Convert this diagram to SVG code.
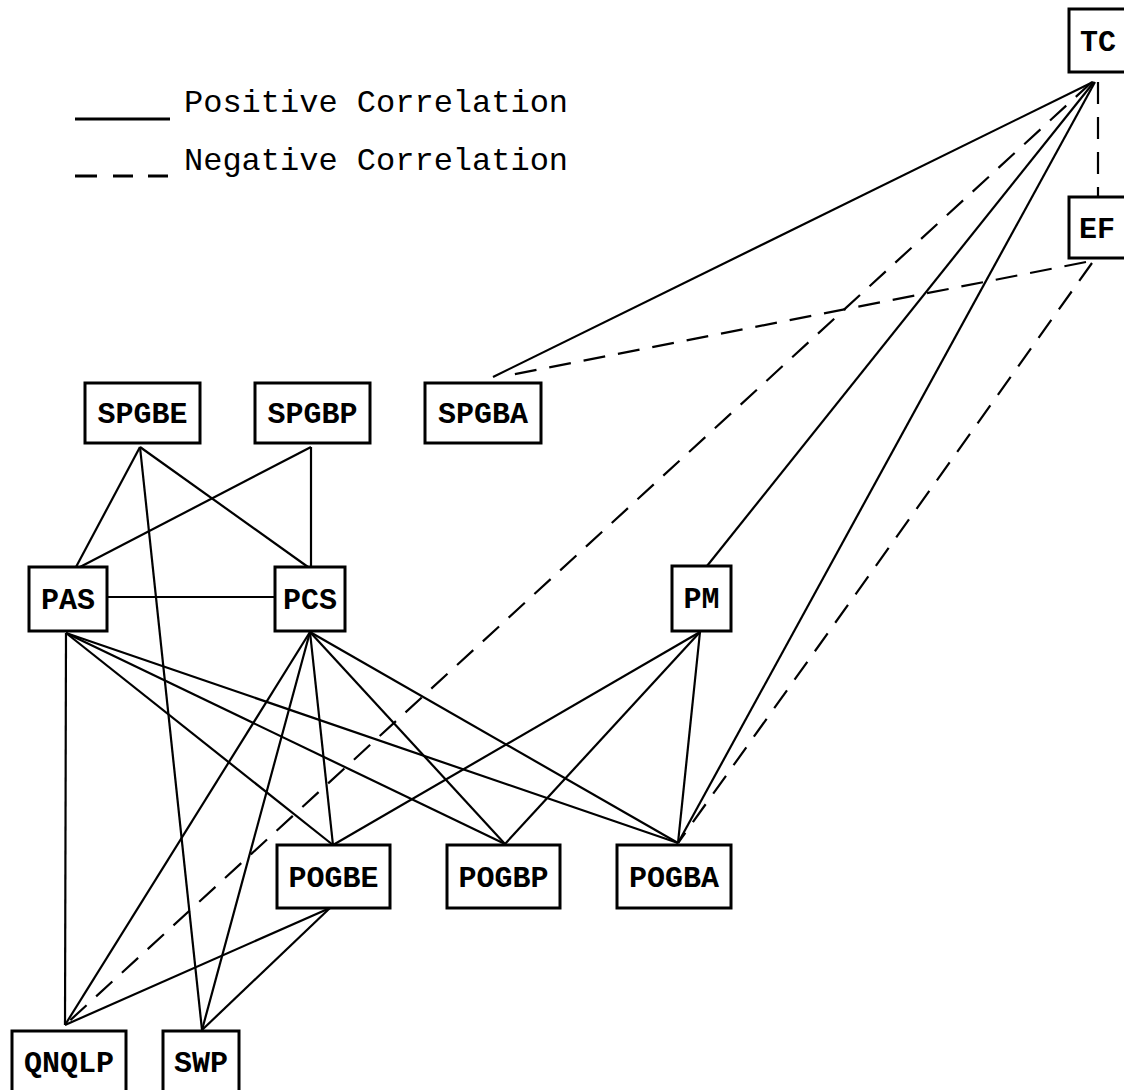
<svg xmlns="http://www.w3.org/2000/svg" width="1124" height="1090" viewBox="0 0 1124 1090">
<style>
.box{fill:#fff;stroke:#000;stroke-width:3}
.lbl{font-family:"Liberation Mono","DejaVu Sans Mono",monospace;font-size:30px;font-weight:bold;text-anchor:middle;fill:#000}
.leg{font-family:"Liberation Mono","DejaVu Sans Mono",monospace;font-size:32px;fill:#000}
.pos{stroke:#000;stroke-width:2.2;fill:none}
.neg{stroke:#000;stroke-width:2.2;fill:none;stroke-dasharray:22 13}
.lg{stroke:#000;stroke-width:3;fill:none}
</style>
<rect width="1124" height="1090" fill="#fff"/>
<g id="legend">
<line class="lg" x1="75" y1="119" x2="170" y2="119"/>
<text class="leg" x="184" y="112">Positive Correlation</text>
<line class="lg" x1="75" y1="176" x2="97" y2="176"/>
<line class="lg" x1="113" y1="176" x2="133" y2="176"/>
<line class="lg" x1="148" y1="176" x2="168" y2="176"/>
<text class="leg" x="184" y="170">Negative Correlation</text>
</g>
<g id="connectors">
<line class="pos" x1="1093" y1="82" x2="493" y2="377"/>
<line class="neg" x1="1092" y1="82" x2="65" y2="1025"/>
<line class="pos" x1="1094" y1="82" x2="707" y2="566"/>
<line class="pos" x1="1095" y1="82" x2="678" y2="843"/>
<line class="neg" x1="1098" y1="82" x2="1098" y2="197"/>
<line class="neg" x1="1086" y1="262" x2="505" y2="376"/>
<line class="neg" x1="1092" y1="263" x2="678" y2="843"/>
<line class="pos" x1="140" y1="447" x2="76" y2="567"/>
<line class="pos" x1="140" y1="447" x2="202" y2="1030"/>
<line class="pos" x1="140" y1="447" x2="308" y2="567"/>
<line class="pos" x1="311" y1="447" x2="80" y2="567"/>
<line class="pos" x1="311" y1="447" x2="311" y2="567"/>
<line class="pos" x1="107" y1="597" x2="275" y2="597"/>
<line class="pos" x1="66" y1="633" x2="65" y2="1025"/>
<line class="pos" x1="66" y1="633" x2="333" y2="845"/>
<line class="pos" x1="66" y1="633" x2="505" y2="844"/>
<line class="pos" x1="66" y1="633" x2="678" y2="843"/>
<line class="pos" x1="310" y1="632" x2="65" y2="1025"/>
<line class="pos" x1="310" y1="632" x2="202" y2="1030"/>
<line class="pos" x1="310" y1="632" x2="333" y2="845"/>
<line class="pos" x1="310" y1="632" x2="505" y2="844"/>
<line class="pos" x1="310" y1="632" x2="678" y2="843"/>
<line class="pos" x1="700" y1="632" x2="333" y2="845"/>
<line class="pos" x1="700" y1="632" x2="505" y2="844"/>
<line class="pos" x1="700" y1="632" x2="678" y2="843"/>
<line class="pos" x1="330" y1="908" x2="65" y2="1025"/>
<line class="pos" x1="330" y1="908" x2="202" y2="1030"/>
</g>
<g id="TC"><rect class="box" x="1069" y="9" width="62" height="63"/><text class="lbl" x="1098" y="51">TC</text></g>
<g id="EF"><rect class="box" x="1069" y="197" width="62" height="61"/><text class="lbl" x="1097" y="238">EF</text></g>
<g id="SPGBE"><rect class="box" x="85" y="383" width="115" height="60"/><text class="lbl" x="142.5" y="423">SPGBE</text></g>
<g id="SPGBP"><rect class="box" x="255" y="383" width="115" height="60"/><text class="lbl" x="312.5" y="423">SPGBP</text></g>
<g id="SPGBA"><rect class="box" x="425" y="383" width="116" height="60"/><text class="lbl" x="483" y="423">SPGBA</text></g>
<g id="PAS"><rect class="box" x="29" y="567" width="78" height="64"/><text class="lbl" x="68" y="609">PAS</text></g>
<g id="PCS"><rect class="box" x="275" y="567" width="70" height="64"/><text class="lbl" x="310" y="609">PCS</text></g>
<g id="PM"><rect class="box" x="672" y="566" width="59" height="65"/><text class="lbl" x="701.5" y="608">PM</text></g>
<g id="POGBE"><rect class="box" x="277" y="845" width="113" height="63"/><text class="lbl" x="333.5" y="887">POGBE</text></g>
<g id="POGBP"><rect class="box" x="447" y="845" width="113" height="63"/><text class="lbl" x="503.5" y="887">POGBP</text></g>
<g id="POGBA"><rect class="box" x="617" y="845" width="114" height="63"/><text class="lbl" x="674" y="887">POGBA</text></g>
<g id="QNQLP"><rect class="box" x="12" y="1031" width="114" height="70"/><text class="lbl" x="69" y="1072">QNQLP</text></g>
<g id="SWP"><rect class="box" x="163" y="1031" width="76" height="70"/><text class="lbl" x="201" y="1072">SWP</text></g>
</svg>
